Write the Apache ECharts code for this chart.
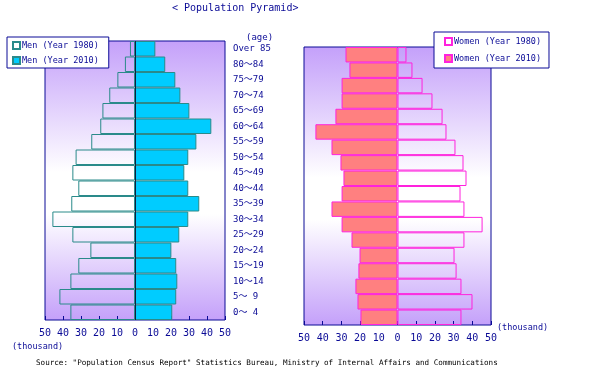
<!DOCTYPE html>
<html><head><meta charset="utf-8">
<script src="https://cdn.jsdelivr.net/npm/echarts@6/dist/echarts.min.js"></script>
<style>html,body{margin:0;padding:0;background:#fff}#c{width:605px;height:391px}</style>
</head><body><div id="c"></div>
<script>
var categories = ['0～ 4','5～ 9','10～14','15～19','20～24','25～29','30～34','35～39','40～44','45～49','50～54','55～59','60～64','65～69','70～74','75～79','80～84','Over 85'];
var men1980   = [35.9, 42.0, 35.9, 31.5, 24.8, 34.8, 45.9, 35.4, 31.5, 34.8, 33.0, 24.3, 19.3, 18.1, 14.3, 9.8, 5.6, 2.8];
var men2010   = [20.7, 22.9, 23.5, 22.9, 20.2, 24.6, 29.6, 35.7, 29.6, 27.4, 29.6, 34.1, 42.4, 30.2, 25.2, 22.4, 16.8, 11.3];
var women2010 = [19.8, 21.4, 22.5, 20.9, 20.3, 24.6, 29.9, 35.3, 29.9, 28.9, 30.5, 35.3, 43.9, 33.2, 29.9, 29.9, 25.7, 27.8];
var women1980 = [34.2, 40.1, 34.2, 31.6, 30.5, 35.8, 45.5, 35.8, 33.7, 36.9, 35.3, 31.0, 26.2, 24.1, 18.7, 13.4, 8.0, 4.8];

var FONT = '"DejaVu Sans Mono", "Noto Sans CJK JP", monospace';
var NAVY = '#0a0a96';
var TEAL = '#2a8a8a';
var MAG = '#ff22dd';
function bg(){
  return {type:'linear',x:0,y:0,x2:0,y2:1,colorStops:[
    {offset:0,color:'#c4a0fa'},{offset:0.47,color:'#ffffff'},{offset:0.62,color:'#ffffff'},{offset:1,color:'#c4a0fa'}]};
}
function xAx(gi){
  return {type:'value',gridIndex:gi,min:-50,max:50,interval:10,
    axisLine:{show:false},splitLine:{show:false},
    axisTick:{show:true,inside:true,length:4,lineStyle:{color:NAVY}},
    axisLabel:{color:NAVY,fontFamily:FONT,fontSize:10,margin:8,formatter:function(v){return Math.abs(v);}}};
}
var neg = function(a){return a.map(function(v){return -v;});};
var chart = echarts.init(document.getElementById('c'));
chart.setOption({
  animation:false,
  backgroundColor:'#fff',
  grid:[
    {left:45,right:380,top:41,bottom:71,show:true,backgroundColor:bg(),borderColor:NAVY,borderWidth:1},
    {left:304,right:114,top:47,bottom:66,show:true,backgroundColor:bg(),borderColor:NAVY,borderWidth:1}
  ],
  xAxis:[xAx(0),xAx(1)],
  yAxis:[
    {type:'category',gridIndex:0,data:categories,position:'right',
      axisLine:{show:false},axisTick:{show:false},
      axisLabel:{color:NAVY,fontFamily:FONT,fontSize:9,margin:8,align:'left'}},
    {type:'category',gridIndex:1,data:categories,
      axisLine:{show:false},axisTick:{show:false},axisLabel:{show:false}}
  ],
  legend:[
    {data:['Men (Year 1980)','Men (Year 2010)'],orient:'vertical',left:7,top:37,icon:'rect',
      backgroundColor:'#fff',borderColor:NAVY,borderWidth:1,padding:[4,10,3,5],
      itemWidth:7,itemHeight:7,itemGap:6,
      textStyle:{color:NAVY,fontFamily:FONT,fontSize:8.5,padding:[0,0,0,-3]}},
    {data:['Women (Year 1980)','Women (Year 2010)'],orient:'vertical',left:434,top:32,icon:'rect',
      backgroundColor:'#fff',borderColor:NAVY,borderWidth:1,padding:[5,8,5,10],
      itemWidth:7,itemHeight:7,itemGap:8,
      textStyle:{color:NAVY,fontFamily:FONT,fontSize:8.5,padding:[0,0,0,-3]}}
  ],
  series:[
    {name:'Men (Year 1980)',type:'bar',xAxisIndex:0,yAxisIndex:0,data:neg(men1980),
      barWidth:'100%',barGap:'-100%',
      itemStyle:{color:'rgba(255,255,255,0)',borderColor:TEAL,borderWidth:1}},
    {name:'Men (Year 2010)',type:'bar',xAxisIndex:0,yAxisIndex:0,data:men2010,
      barWidth:'100%',barGap:'-100%',
      itemStyle:{color:'#00ccff',borderColor:TEAL,borderWidth:1},
      markLine:{silent:true,symbol:'none',label:{show:false},lineStyle:{color:'#102040',type:'solid',width:1},data:[{xAxis:0}]}},
    {name:'Women (Year 2010)',type:'bar',xAxisIndex:1,yAxisIndex:1,data:neg(women2010),
      barWidth:'100%',barGap:'-100%',
      itemStyle:{color:'#ff8080',borderColor:MAG,borderWidth:1}},
    {name:'Women (Year 1980)',type:'bar',xAxisIndex:1,yAxisIndex:1,data:women1980,
      barWidth:'100%',barGap:'-100%',
      itemStyle:{color:'rgba(255,255,255,0)',borderColor:MAG,borderWidth:1}}
  ],
  graphic:[
    {type:'text',left:172,top:3,style:{text:'< Population Pyramid>',fill:NAVY,font:'10px '+FONT}},
    {type:'text',left:246,top:33,style:{text:'(age)',fill:NAVY,font:'9px '+FONT}},
    {type:'text',left:12,top:343,style:{text:'(thousand)',fill:NAVY,font:'8.5px '+FONT}},
    {type:'text',left:497,top:324,style:{text:'(thousand)',fill:NAVY,font:'8.5px '+FONT}},
    {type:'text',left:36,top:359,style:{text:'Source: "Population Census Report" Statistics Bureau, Ministry of Internal Affairs and Communications',fill:'#000',font:'7.6px '+FONT}}
  ]
});
</script></body></html>
